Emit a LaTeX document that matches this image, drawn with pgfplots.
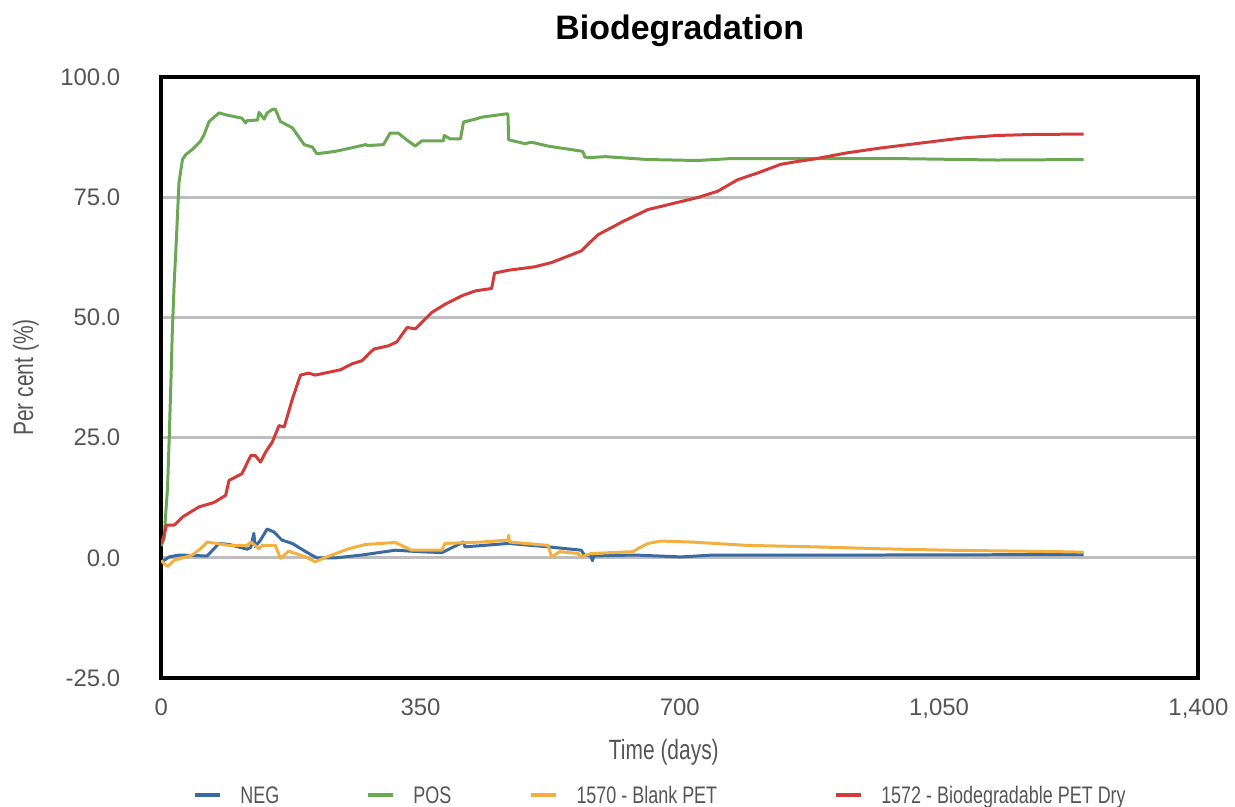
\documentclass[border=0pt]{standalone}
\usepackage{pgfplots}
\pgfplotsset{compat=1.18}
\usepackage{fontspec}
\setmainfont{Liberation Sans}
\newfontfamily\condfont{Liberation Sans}[FakeStretch=0.75]
\definecolor{cneg}{RGB}{58,106,160}
\definecolor{cpos}{RGB}{106,168,84}
\definecolor{corg}{RGB}{242,176,64}
\definecolor{cred}{RGB}{211,59,59}
\definecolor{cgrid}{RGB}{190,190,190}
\definecolor{ctick}{RGB}{85,85,85}
\begin{document}
\begin{tikzpicture}
\begin{axis}[
  scale only axis,
  width=520pt, height=301.5pt,
  xmin=0, xmax=1400, ymin=-25, ymax=100,
  xtick={0,350,700,1050,1400},
  xticklabels={0,350,700,{1,050},{1,400}},
  ytick={-25,0,25,50,75,100},
  yticklabels={-25.0,0.0,25.0,50.0,75.0,100.0},
  major tick length=0pt,
  ymajorgrids,
  grid style={cgrid, line width=1.5pt},
  axis line style={black, line width=2pt},
  tick label style={font=\fontsize{12}{14}\selectfont, text=ctick},
  yticklabel style={xshift=-17pt},
  xticklabel style={yshift=-7pt},
  title={\bfseries Biodegradation},
  title style={font=\fontsize{17}{20}\selectfont, at={(axis description cs:0.5,1)},
    anchor=base, inner sep=0pt, text height=20pt, yshift=12.5pt},
  xlabel={Time (days)},
  ylabel={Per cent (\%)},
  label style={font=\condfont\fontsize{14}{16}\selectfont, text=ctick},
  xlabel style={at={(axis description cs:0.4846,0)}, anchor=base, inner sep=0pt, yshift=-41pt},
  ylabel style={at={(axis description cs:-0.1558,0.5)}, anchor=north, inner xsep=0pt, inner ysep=6.5pt},
  legend columns=4,
  legend style={draw=none, at={(axis description cs:0.4803,-0.2139)}, anchor=south,
    inner xsep=0pt, inner ysep=1.5pt,
    font=\condfont\fontsize{12}{14}\selectfont, text=ctick,
    nodes={inner xsep=0pt, inner ysep=0pt, text depth=0pt},
    /tikz/column 1/.style={column sep=9pt},
    /tikz/column 3/.style={column sep=9pt},
    /tikz/column 5/.style={column sep=9pt},
    /tikz/column 7/.style={column sep=9pt},
    /tikz/column 2/.style={column sep=43.5pt},
    /tikz/column 4/.style={column sep=39pt},
    /tikz/column 6/.style={column sep=58.5pt}},
  legend image code/.code={\draw[line width=2.25pt] (0pt,0pt) -- (12.5pt,0pt);},
  every axis plot/.append style={line width=1.5pt, line join=round},
  clip=true,
]
\addplot[cneg] coordinates {(0,-1)(4,-0.5)(10.8,0.2)(24,0.6)(62,0.4)(78,3.0)(91.5,2.8)(116,1.8)(121,2.2)(125,5.1)(127,2.3)(134,3.7)(143,6.0)(152,5.4)(163,3.7)(177,3.0)(195,1.3)(210,0)(235,0)(271,0.6)(316,1.6)(347,1.3)(379,1.1)(408,3.3)(410,2.3)(469,3.0)(522,2.3)(567,1.6)(571,0.6)(580,0.4)(582,-0.6)(584,0.4)(639,0.6)(702,0.2)(746,0.6)(970,0.6)(1245,0.7)};
\addlegendentry{NEG}
\addplot[cpos] coordinates {(0,2.5)(4,4)(6,9)(8.5,14.4)(10.8,24.8)(13,36)(15,47)(17.5,57)(19.8,64)(24,78)(28.7,82.8)(33,83.8)(42,84.9)(53,86.6)(58,88)(64.6,90.7)(78,92.5)(87,92.1)(109,91.4)(114,90.4)(116,90.9)(130,91)(132,92.6)(139,91.2)(143,92.5)(150,93.2)(154,93.3)(161,90.7)(177,89.4)(193,85.9)(204,85.4)(210,84.0)(235,84.5)(253,85.1)(276,85.9)(279,85.7)(300,85.9)(309,88.3)(320,88.3)(332,86.8)(343,85.6)(352,86.7)(381,86.7)(382,87.8)(390,87.1)(404,87.1)(408,90.6)(424,91.2)(432.5,91.6)(466,92.3)(468,92.3)(469,86.9)(491,86.1)(500,86.4)(522,85.6)(569,84.5)(572,83.3)(577,83.2)(600,83.4)(657,82.8)(724,82.6)(769,83.0)(903,83.0)(993,83.0)(1128,82.7)(1245,82.8)};
\addlegendentry{POS}
\addplot[corg] coordinates {(0,-0.5)(4,-1.2)(8.5,-1.8)(17.5,-0.5)(42,0.6)(53,1.9)(62,3.3)(91.5,2.6)(116,2.6)(121,3.3)(132,1.9)(136,2.6)(154,2.6)(161,-0.1)(172,1.4)(195,0.2)(208,-0.8)(220,0)(253,1.9)(276,2.8)(316,3.2)(338,1.6)(379,1.6)(383,3.0)(432.5,3.3)(468,3.7)(469,4.7)(470,3.3)(522,2.6)(527,0.2)(538,1.3)(563,0.9)(567,0.2)(580,0.9)(637,1.3)(643,1.9)(657,3.0)(675,3.5)(715,3.3)(791,2.6)(881,2.3)(971,1.9)(1061,1.6)(1209,1.3)(1245,1.2)};
\addlegendentry{1570 - Blank PET}
\addplot[cred] coordinates {(0,3)(4,4.7)(7,6.8)(10.8,6.8)(17.5,6.8)(28.7,8.5)(51,10.6)(71,11.5)(87,13.0)(91.5,16.1)(109,17.5)(121,21.3)(127,21.3)(134,19.9)(141,22.0)(150,24.1)(159,27.5)(166,27.2)(177,33.0)(188,38.0)(199,38.4)(208,38.0)(242,39.1)(257,40.3)(271,41.0)(287,43.4)(307,44.1)(318,44.9)(332,47.9)(343,47.6)(365,51.0)(383,52.7)(406,54.5)(424,55.5)(446,56.0)(450,59.2)(469,59.8)(504,60.5)(527,61.4)(567,63.8)(576,65.2)(590,67.2)(623,69.9)(657,72.4)(724,74.9)(751,76.2)(778,78.6)(805,80.0)(836,81.8)(859,82.4)(881,82.9)(895,83.3)(926,84.2)(971,85.2)(1019,86.1)(1050,86.7)(1083,87.3)(1128,87.8)(1173,88.0)(1245,88.1)};
\addlegendentry{1572 - Biodegradable PET Dry}
\end{axis}
\end{tikzpicture}
\end{document}
